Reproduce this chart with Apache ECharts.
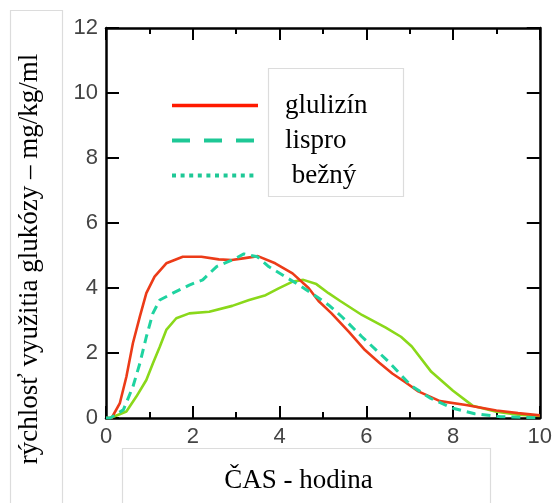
<!DOCTYPE html>
<html>
<head>
<meta charset="utf-8">
<script src="https://cdn.jsdelivr.net/npm/echarts@6/dist/echarts.min.js"></script>
<style>html,body{margin:0;padding:0;background:#fff}#c{width:555px;height:503px}</style>
</head>
<body>
<div id="c"></div>
<script>
// ---- data ----
const seriesNames = ['glulizín', 'lispro', 'bežný'];
const xTicks = [0, 2, 4, 6, 8, 10];
const yTicks = [0, 2, 4, 6, 8, 10, 12];

const glulizinX = [0, 0.13, 0.32, 0.47, 0.62, 0.78, 0.93, 1.12, 1.39, 1.77, 2.2, 2.6, 2.9, 3.2, 3.5, 3.9, 4.3, 4.67, 4.9, 5.2, 5.6, 5.97, 6.3, 6.6, 6.9, 7.2, 7.7, 8.3, 9.0, 9.5, 10];
const glulizinY = [0, 0, 0.46, 1.27, 2.3, 3.12, 3.84, 4.35, 4.76, 4.96, 4.96, 4.88, 4.86, 4.92, 4.98, 4.76, 4.45, 4.0, 3.6, 3.22, 2.65, 2.09, 1.7, 1.37, 1.1, 0.82, 0.52, 0.4, 0.23, 0.15, 0.08];

const lisproX = [0, 0.1, 0.4, 0.62, 0.78, 0.93, 1.08, 1.24, 1.54, 1.92, 2.23, 2.55, 2.91, 3.18, 3.49, 3.75, 4.13, 4.44, 4.74, 5.13, 5.45, 5.9, 6.5, 7.03, 7.49, 8.0, 8.5, 9.1, 9.6, 10];
const lisproY = [0, 0, 0.25, 0.96, 1.68, 2.5, 3.22, 3.63, 3.84, 4.09, 4.25, 4.66, 4.86, 5.05, 4.96, 4.66, 4.35, 4.1, 3.84, 3.48, 3.1, 2.5, 1.75, 1.0, 0.6, 0.3, 0.13, 0.04, 0.02, 0];

const beznyX = [0, 0.1, 0.47, 0.7, 0.93, 1.08, 1.24, 1.39, 1.62, 1.92, 2.38, 2.91, 3.3, 3.68, 3.98, 4.29, 4.55, 4.85, 5.13, 5.4, 5.9, 6.45, 6.8, 7.05, 7.5, 8.0, 8.45, 9.0, 9.5, 10];
const beznyY = [0, 0, 0.2, 0.66, 1.17, 1.68, 2.19, 2.71, 3.07, 3.22, 3.27, 3.45, 3.63, 3.78, 3.99, 4.19, 4.25, 4.12, 3.84, 3.6, 3.17, 2.78, 2.5, 2.2, 1.42, 0.84, 0.38, 0.19, 0.1, 0.06];

const xTitle = 'ČAS - hodina';
const yTitle = 'rýchlosť využitia glukózy – mg/kg/ml';

// ---- chart ----
const pairs = (xs, ys) => xs.map((v, i) => [v, ys[i]]);
const serif = '"Liberation Serif", "Times New Roman", serif';
const sans = '"Liberation Sans", Arial, sans-serif';
const axisLine = { show: true, onZero: false, lineStyle: { color: '#000', width: 2.5 } };

const chart = echarts.init(document.getElementById('c'), null, { renderer: 'canvas' });
chart.setOption({
  animation: false,
  backgroundColor: '#fff',
  grid: { left: 106, right: 12, top: 28, bottom: 85, containLabel: false },
  xAxis: [{
    type: 'value', min: xTicks[0], max: xTicks[xTicks.length - 1], interval: 2,
    position: 'bottom',
    axisLine: axisLine,
    axisTick: { show: true, inside: true, length: 12, lineStyle: { color: '#000', width: 2 } },
    minorTick: { show: true, splitNumber: 2, length: 6, lineStyle: { color: '#000', width: 2 } },
    splitLine: { show: false },
    axisLabel: { color: '#444', fontFamily: sans, fontSize: 22, margin: 8 },
    name: xTitle, nameLocation: 'middle', nameGap: 49,
    nameTextStyle: { fontFamily: serif, fontSize: 27, color: '#000', padding: [0, 49, 0, 0] }
  }, {
    type: 'value', min: xTicks[0], max: xTicks[xTicks.length - 1], interval: 2,
    position: 'top',
    axisLine: axisLine,
    axisTick: { show: true, inside: true, length: 12, lineStyle: { color: '#000', width: 2 } },
    minorTick: { show: true, splitNumber: 2, length: 6, lineStyle: { color: '#000', width: 2 } },
    splitLine: { show: false },
    axisLabel: { show: false }
  }],
  yAxis: [{
    type: 'value', min: yTicks[0], max: yTicks[yTicks.length - 1], interval: 2,
    position: 'left',
    axisLine: axisLine,
    axisTick: { show: true, inside: true, length: 13, lineStyle: { color: '#000', width: 2 } },
    splitLine: { show: false },
    axisLabel: { color: '#444', fontFamily: sans, fontSize: 22, margin: 8 },
    name: yTitle, nameLocation: 'middle', nameGap: 63, nameRotate: 90,
    nameTextStyle: { fontFamily: serif, fontSize: 27, color: '#000', padding: [0, 72, 0, 0] }
  }, {
    type: 'value', min: yTicks[0], max: yTicks[yTicks.length - 1], interval: 2,
    position: 'right',
    axisLine: axisLine,
    axisTick: { show: true, inside: true, length: 13, lineStyle: { color: '#000', width: 2 } },
    splitLine: { show: false },
    axisLabel: { show: false }
  }],
  legend: {
    orient: 'vertical', left: 170, top: 88, padding: 0,
    itemWidth: 86, itemHeight: 8, itemGap: 0,
    itemStyle: { opacity: 0 },
    formatter: n => n === 'bežný' ? ' bežný' : n,
    textStyle: { fontFamily: serif, fontSize: 27, color: '#000', lineHeight: 35, padding: [0, 0, 0, 22] },
    data: [
      { name: seriesNames[0], lineStyle: { color: '#ff1a00', width: 3.5, type: 'solid' } },
      { name: seriesNames[1], lineStyle: { color: '#1ec896', width: 4, type: [18, 14] } },
      { name: seriesNames[2], lineStyle: { color: '#1ec896', width: 4, type: [4, 4.6] } }
    ]
  },
  graphic: [
    { type: 'rect', shape: { x: 10.5, y: 10.5, width: 52, height: 510 }, style: { fill: 'none', stroke: '#dcdcdc', lineWidth: 1.2 }, z: -1 },
    { type: 'rect', shape: { x: 122.5, y: 448.5, width: 368, height: 70 }, style: { fill: 'none', stroke: '#dcdcdc', lineWidth: 1.2 }, z: -1 },
    { type: 'rect', shape: { x: 268.5, y: 68.5, width: 135, height: 128 }, style: { fill: 'none', stroke: '#dcdcdc', lineWidth: 1.2 }, z: -1 }
  ],
  series: [
    { name: seriesNames[0], type: 'line', showSymbol: false, symbol: 'none', data: pairs(glulizinX, glulizinY),
      lineStyle: { color: '#ec3b18', width: 2.6, type: 'solid' }, itemStyle: { color: '#ec3b18' }, z: 3 },
    { name: seriesNames[1], type: 'line', showSymbol: false, symbol: 'none', data: pairs(lisproX, lisproY),
      lineStyle: { color: '#1fd3a0', width: 3, type: [9, 6] }, itemStyle: { color: '#1fd3a0' }, z: 4 },
    { name: seriesNames[2], type: 'line', showSymbol: false, symbol: 'none', data: pairs(beznyX, beznyY),
      lineStyle: { color: '#8ad81a', width: 2.6, type: 'solid' }, itemStyle: { color: '#8ad81a' }, z: 2 }
  ]
});
</script>
</body>
</html>
